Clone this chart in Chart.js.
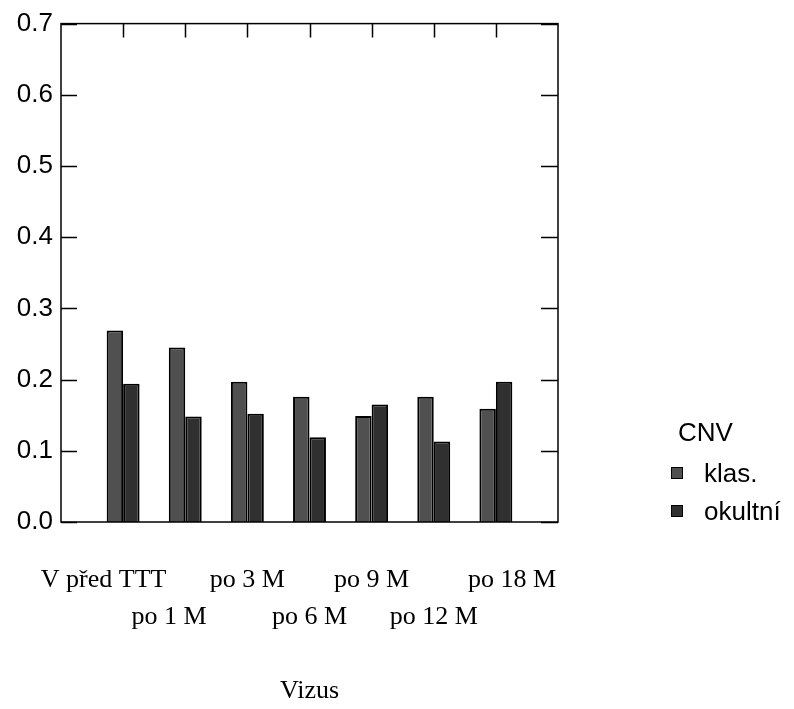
<!DOCTYPE html>
<html>
<head>
<meta charset="utf-8">
<script src="https://cdn.jsdelivr.net/npm/chart.js@4"></script>
<style>
  body { margin: 0; background: #fff; }
  #wrap { position: relative; width: 794px; height: 709px; }
  #legend { position: absolute; left: 671px; top: 414px; font-family: "Liberation Sans", Arial, sans-serif; color: #000; }
  #legend .title { font-size: 26px; margin-left: 7px; line-height: 36px; }
  #legend .item { font-size: 26px; line-height: 30px; margin-top: 8px; display: flex; align-items: center; }
  #legend .box { width: 10px; height: 10px; border: 1px solid #000; margin-right: 21px; }
</style>
</head>
<body>
<div id="wrap">
  <canvas id="myChart" width="794" height="709"></canvas>
  <div id="legend"></div>
</div>
<script>
const categories = ["V před TTT", "po 1 M", "po 3 M", "po 6 M", "po 9 M", "po 12 M", "po 18 M"];
const klas = [0.269, 0.245, 0.197, 0.176, 0.149, 0.176, 0.159];
const okultni = [0.194, 0.148, 0.152, 0.119, 0.165, 0.113, 0.197];
const seriesNames = ["klas.", "okultní"];
const seriesColors = ["#505050", "#303030"];
const yTicks = [0, 0.1, 0.2, 0.3, 0.4, 0.5, 0.6, 0.7];

// small nudge of some labels (in spaces), the scan has them a bit off-centre
const labelNudge = [-6, -5, 0, 0, 0, 0, 5];
const nb = (n) => "\u00a0".repeat(Math.abs(n));
const nudged = categories.map((c, i) => (labelNudge[i] < 0 ? c + nb(labelNudge[i]) : nb(labelNudge[i]) + c));

// labels alternate between two rows, one empty slot at each end
const labels = [""].concat(nudged.map((c, i) => (i % 2 === 0 ? [c, ""] : ["", c])), [""]);
const pad = (arr) => [null].concat(arr, [null]);

// frame + inward ticks like the original plot
const frameTicks = {
  id: "frameTicks",
  afterDraw(chart) {
    const ctx = chart.ctx;
    const a = chart.chartArea;
    const x = chart.scales.x;
    const y = chart.scales.y;
    ctx.save();
    ctx.strokeStyle = "#000";
    ctx.lineWidth = 1.5;
    ctx.strokeRect(a.left, a.top, a.right - a.left, a.bottom - a.top);
    ctx.beginPath();
    yTicks.forEach((v) => {
      const py = Math.round(y.getPixelForValue(v)) + 0.5;
      ctx.moveTo(a.left, py);
      ctx.lineTo(a.left + 16, py);
      ctx.moveTo(a.right - 17, py);
      ctx.lineTo(a.right, py);
    });
    categories.forEach((c, i) => {
      const px = Math.round(x.getPixelForValue(i + 1)) + 0.5;
      ctx.moveTo(px, a.top);
      ctx.lineTo(px, a.top + 14);
    });
    ctx.stroke();
    ctx.restore();
  },
};

new Chart("myChart", {
  type: "bar",
  data: {
    labels: labels,
    datasets: [
      {
        label: seriesNames[0],
        data: pad(klas),
        backgroundColor: seriesColors[0],
        borderColor: "#000",
        borderWidth: 2,
      },
      {
        label: seriesNames[1],
        data: pad(okultni),
        backgroundColor: seriesColors[1],
        borderColor: "#000",
        borderWidth: 2,
      },
    ],
  },
  options: {
    responsive: false,
    animation: false,
    layout: { padding: { top: 20, right: 236, left: 0, bottom: 0 } },
    datasets: { bar: { categoryPercentage: 0.53, barPercentage: 1.0 } },
    plugins: {
      legend: { display: false },
      tooltip: { enabled: false },
    },
    scales: {
      x: {
        offset: false,
        grid: { display: false, drawTicks: false },
        border: { display: false },
        ticks: {
          color: "#000",
          padding: 40,
          maxRotation: 0,
          autoSkip: false,
          font: { family: "Liberation Serif", size: 26, lineHeight: 1.42 },
        },
        title: {
          display: true,
          text: "Vizus",
          color: "#000",
          padding: { top: 0, bottom: 2 },
          font: { family: "Liberation Serif", size: 26 },
        },
        afterFit(scale) {
          scale.height = 187;
        },
      },
      y: {
        min: 0,
        max: 0.7,
        grid: { display: false, drawTicks: false },
        border: { display: false },
        ticks: {
          stepSize: 0.1,
          color: "#000",
          padding: 8,
          font: { family: "Liberation Sans", size: 26 },
          callback: (v) => v.toFixed(1),
        },
        afterFit(scale) {
          scale.width = 61;
        },
      },
    },
  },
  plugins: [frameTicks],
});

// legend
const legend = document.getElementById("legend");
legend.innerHTML = '<div class="title">CNV</div>' +
  seriesNames.map((n, i) => '<div class="item"><span class="box" style="background:' + seriesColors[i] + '"></span>' + n + "</div>").join("");
</script>
</body>
</html>
